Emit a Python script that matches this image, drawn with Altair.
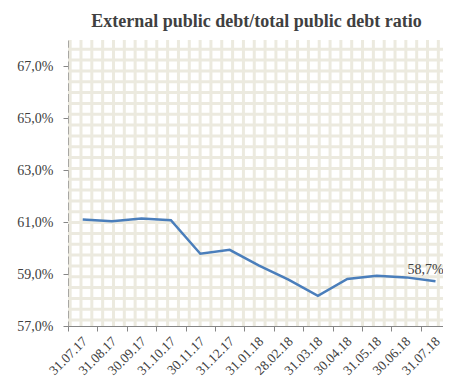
import altair as alt
import pandas as pd

dates = ["31.07.17", "31.08.17", "30.09.17", "31.10.17", "30.11.17", "31.12.17",
         "31.01.18", "28.02.18", "31.03.18", "30.04.18", "31.05.18", "30.06.18", "31.07.18"]
ratio = [61.1, 61.03, 61.13, 61.07, 59.78, 59.93, 59.32, 58.78, 58.16, 58.81, 58.93, 58.87, 58.72]
y_ticks = [57, 59, 61, 63, 65, 67]
grid_cols = list(range(0, 35))
grid_rows = list(range(0, 26))

FONT = "Liberation Serif"
TXT = "#404040"
GRID = "#ECEADF"

df = pd.DataFrame({"date": dates, "ratio": ratio})
last = df.tail(1)
vdf = pd.DataFrame({"gx": grid_cols})
hdf = pd.DataFrame({"gy": grid_rows})

W, H = 375, 286
BAND_RANGE = 382.2

vgrid = alt.Chart(vdf).mark_rule(color=GRID, strokeWidth=3).encode(
    x=alt.X("gx:Q", scale=alt.Scale(domain=[-0.2, 34.43], nice=False, zero=False), axis=None)
)
hgrid = alt.Chart(hdf).mark_rule(color=GRID, strokeWidth=3).encode(
    y=alt.Y("gy:Q", scale=alt.Scale(domain=[-0.55, 25.85], nice=False, zero=False), axis=None)
)

xenc = alt.X(
    "date:N", sort=dates, bandPosition=0.5,
    scale=alt.Scale(type="band", paddingInner=0, paddingOuter=0, range=[0, BAND_RANGE]),
    axis=alt.Axis(title=None, labelAngle=-45, labelFont=FONT, labelFontSize=13.5,
                  labelColor=TXT, tickBand="extent", domainColor="#868686",
                  tickColor="#868686", tickSize=5, labelPadding=3, labelOffset=-3,
                  grid=False),
)
yenc = alt.Y(
    "ratio:Q", scale=alt.Scale(domain=[57, 68], nice=False, zero=False),
    axis=alt.Axis(title=None, values=y_ticks, labelFont=FONT, labelFontSize=14,
                  labelColor=TXT, domainColor="#868686", tickColor="#868686",
                  tickSize=5, labelPadding=10, grid=False,
                  labelExpr="replace(format(datum.value, '.1f'), '.', ',') + '%'"),
)

line = alt.Chart(df).mark_line(color="#4A7EBB", strokeWidth=2.5).encode(x=xenc, y=yenc)
label = alt.Chart(last).transform_calculate(
    lbl="replace(format(datum.ratio, '.1f'), '.', ',') + '%'"
).mark_text(font=FONT, fontSize=14, color=TXT, dy=-11, dx=-10, align="center").encode(
    x=alt.X("date:N", sort=dates, bandPosition=0.5), y="ratio:Q", text="lbl:N"
)

main = alt.layer(line, label)

chart = alt.layer(vgrid, hgrid, main).resolve_scale(x="independent", y="independent").properties(
    width=W, height=H,
    autosize=alt.AutoSizeParams(type="none"),
    padding={"left": 60, "top": 32, "right": 0, "bottom": 55},
    title=alt.TitleParams("External public debt/total public debt ratio", font=FONT,
                          fontSize=18, fontWeight="bold", color=TXT, offset=8, dx=1),
).configure_view(stroke=None)

chart.save("out.html", embed_options={"renderer": "svg", "actions": False})
